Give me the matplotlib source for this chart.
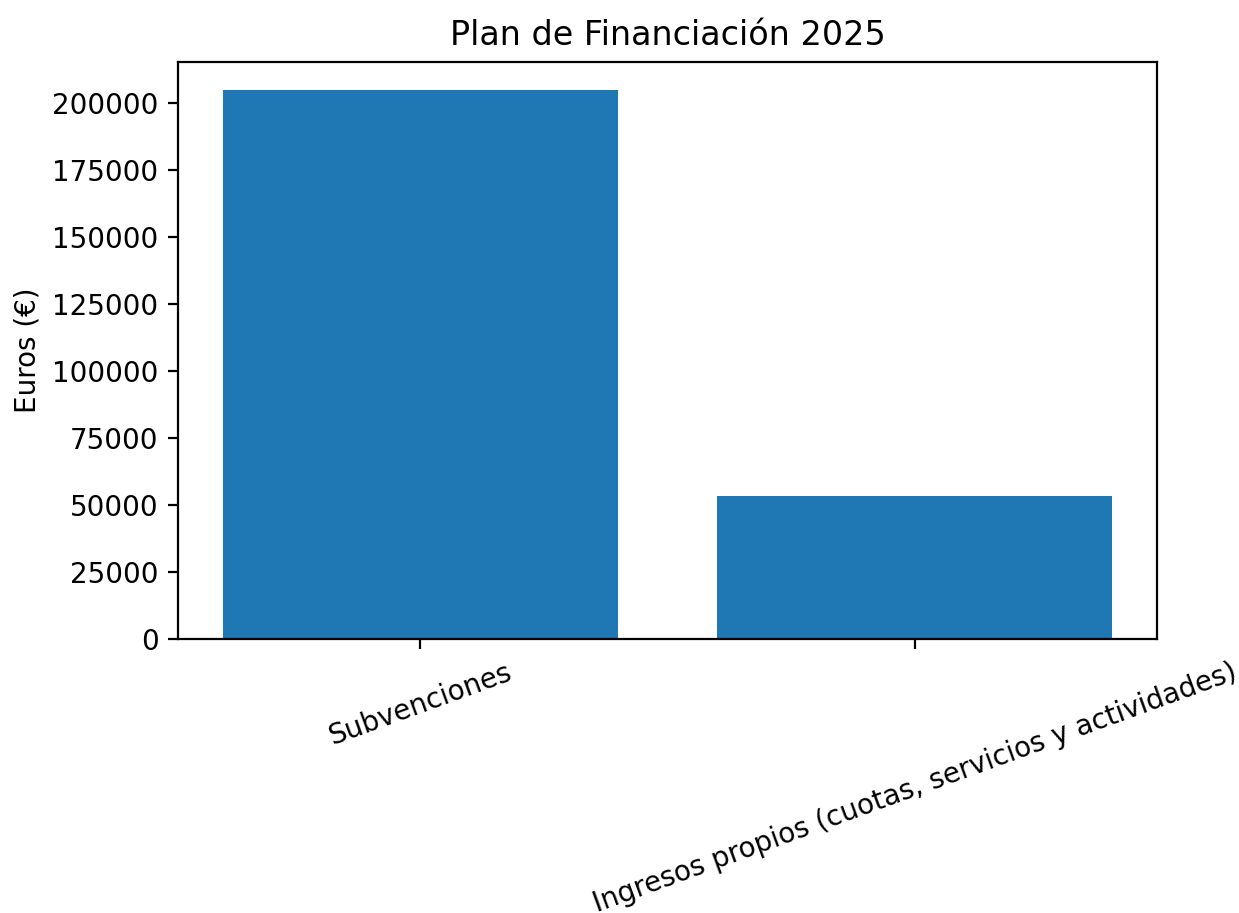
import matplotlib
matplotlib.use("Agg")
import matplotlib.pyplot as plt

categorias = ["Subvenciones", "Ingresos propios (cuotas, servicios y actividades)"]
importes = [204850, 53400]

fig = plt.figure(figsize=(6.195, 4.565), dpi=200)
ax = fig.add_axes([0.1437, 0.3001, 0.7901, 0.6319])
ax.bar(categorias, importes, color="#1f77b4")
ax.set_title("Plan de Financiación 2025", fontsize=12)
ax.set_ylabel("Euros (€)")
plt.setp(ax.get_xticklabels(), rotation=20, ha="center")

fig.savefig("out.png", dpi=200)
